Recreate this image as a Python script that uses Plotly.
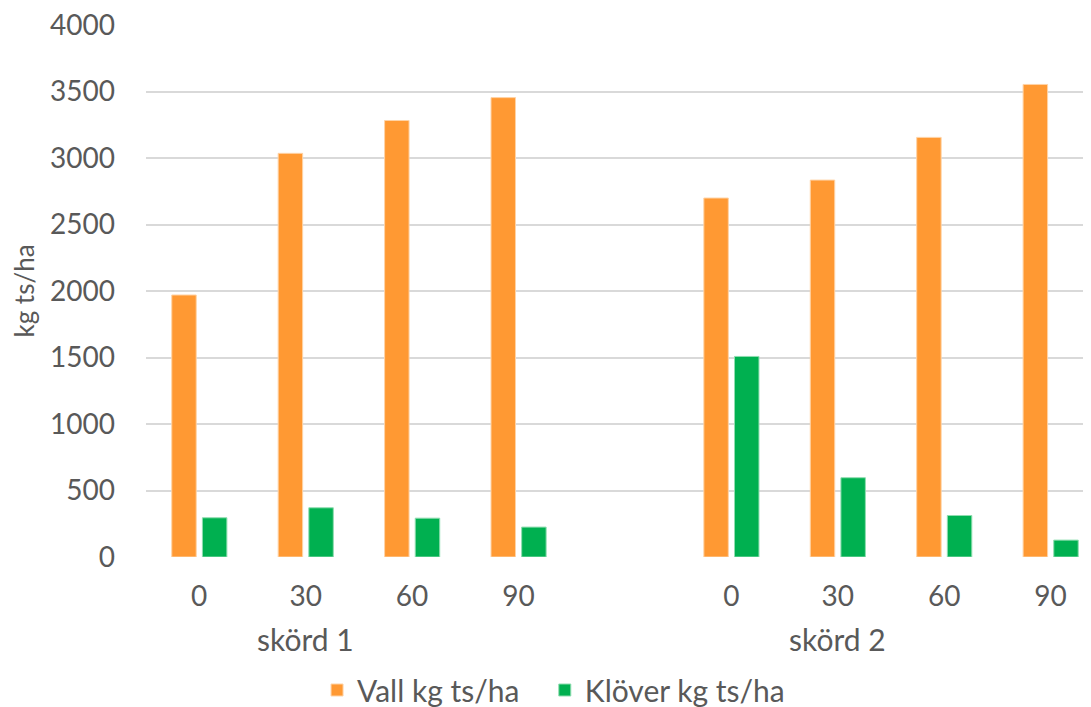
import plotly.graph_objects as go

# Data
harvests = ["skörd 1", "skörd 2"]
n_levels = ["0", "30", "60", "90"]
vall = [1970, 3035, 3282, 3454, 2699, 2834, 3155, 3553]
klover = [295, 370, 292, 225, 1508, 596, 312, 127]
y_ticks = [0, 500, 1000, 1500, 2000, 2500, 3000, 3500, 4000]

# category positions: 4 levels per harvest, one empty slot between harvests
pos = []
labels = []
for h_i, h in enumerate(harvests):
    for n_i, n in enumerate(n_levels):
        pos.append(h_i * (len(n_levels) + 1) + n_i)
        labels.append(n)

FONT = "Lato"
TXT = "#595959"

fig = go.Figure()
fig.add_trace(go.Bar(
    x=pos, y=vall, name="Vall kg ts/ha",
    width=0.23, offset=-0.258, legend="legend",
    marker=dict(color="#FF9933", line=dict(color="#FFD3A6", width=1)),
))
fig.add_trace(go.Bar(
    x=pos, y=klover, name="Klöver kg ts/ha",
    width=0.23, offset=0.03, legend="legend2",
    marker=dict(color="#00B050", line=dict(color="#8FDDB0", width=1)),
))

for h_i, h in enumerate(harvests):
    fig.add_annotation(
        x=h_i * (len(n_levels) + 1) + 1, y=0, xref="x", yref="paper",
        text=h, showarrow=False, yanchor="middle", yshift=-82,
        font=dict(family=FONT, size=30, color=TXT),
    )

leg_common = dict(
    orientation="h", xanchor="left", y=-0.25, yanchor="middle",
    font=dict(family=FONT, size=30, color=TXT),
    itemwidth=30, bgcolor="rgba(0,0,0,0)",
)

fig.update_layout(
    width=1083, height=699,
    margin=dict(l=138, r=0, t=17, b=150, autoexpand=False),
    paper_bgcolor="white", plot_bgcolor="white",
    font=dict(family=FONT, size=28, color=TXT),
    barmode="overlay",
    showlegend=True,
    legend=dict(x=0.181, **leg_common),
    legend2=dict(x=0.422, **leg_common),
    xaxis=dict(
        range=[-0.5, 8.38], tickmode="array", tickvals=pos, ticktext=labels,
        showgrid=False, zeroline=False, showline=False, ticks="",
        ticklabelstandoff=20, automargin=False,
        tickfont=dict(family=FONT, size=28, color=TXT),
    ),
    yaxis=dict(
        range=[0, 4000], tickmode="array", tickvals=y_ticks,
        showgrid=True, gridcolor="#D9D9D9", gridwidth=1.5,
        zeroline=False, showline=False, ticks="",
        ticklabelstandoff=30, automargin=False, ticklabeloverflow="allow",
        tickfont=dict(family=FONT, size=28, color=TXT),
        title=dict(text="kg ts/ha", font=dict(family=FONT, size=26, color=TXT), standoff=9),
    ),
)

fig.write_html("out.html")
